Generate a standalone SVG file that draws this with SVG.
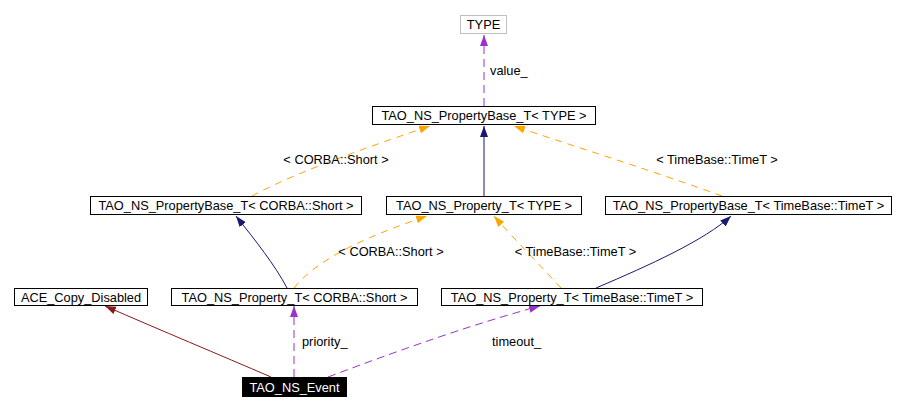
<svg xmlns="http://www.w3.org/2000/svg" width="909" height="411" viewBox="0 0 909 411">
<style>
  text { font-family: "Liberation Sans", Arial, sans-serif; font-size: 12.8px; fill: #000; }
  .box { fill: #fff; stroke: #000; stroke-width: 1; }
  .gbox { fill: #fff; stroke: #bfbfbf; stroke-width: 1; }
  .ebox { fill: #000; stroke: #000; stroke-width: 1; }
  .wt { fill: #fff; }
  .c { fill: none; stroke-width: 1; }
  .navy { stroke: #191970; }
  .red { stroke: #8b1a1a; }
  .org { stroke: #ffa500; stroke-dasharray: 7,6; }
  .pur { stroke: #9a32cd; stroke-dasharray: 8,5; }
</style>
<defs>
  <marker id="aNavy" markerUnits="userSpaceOnUse" markerWidth="12" markerHeight="9" refX="11" refY="4" orient="auto"><path d="M0,0 L11,4 L0,8 z" fill="#191970"/></marker>
  <marker id="aRed" markerUnits="userSpaceOnUse" markerWidth="12" markerHeight="9" refX="11" refY="4" orient="auto"><path d="M0,0 L11,4 L0,8 z" fill="#8b1a1a"/></marker>
  <marker id="aOrg" markerUnits="userSpaceOnUse" markerWidth="12" markerHeight="9" refX="11" refY="4" orient="auto"><path d="M0,0 L11,4 L0,8 z" fill="#ffa500"/></marker>
  <marker id="aPur" markerUnits="userSpaceOnUse" markerWidth="12" markerHeight="9" refX="11" refY="4" orient="auto"><path d="M0,0 L11,4 L0,8 z" fill="#9a32cd"/></marker>
</defs>
<rect width="909" height="411" fill="#fff"/>

<g id="connectors">
  <path class="c pur" d="M484,106 L484,35" marker-end="url(#aPur)"/>
  <path class="c navy" d="M484,197 L484,126" marker-end="url(#aNavy)"/>
  <path class="c org" d="M252,196 C300,170 380,143 430,126" marker-end="url(#aOrg)"/>
  <path class="c org" d="M722,196 C650,170 570,145 514,126" marker-end="url(#aOrg)"/>
  <path class="c navy" d="M287,288 C275,265 255,240 236,216" marker-end="url(#aNavy)"/>
  <path class="c org" d="M294,288 C320,255 380,232 427,216" marker-end="url(#aOrg)"/>
  <path class="c org" d="M561,288 C540,265 515,240 494,216" marker-end="url(#aOrg)"/>
  <path class="c navy" d="M596,288 C650,265 705,240 731,216" marker-end="url(#aNavy)"/>
  <path class="c red" d="M271,377 C220,355 160,330 105,306" marker-end="url(#aRed)"/>
  <path class="c pur" d="M294,377 L294,306" marker-end="url(#aPur)"/>
  <path class="c pur" d="M328,377 C400,350 470,325 540,306" marker-end="url(#aPur)"/>
  <text x="490" y="75">value_</text>
  <text x="336" y="164" text-anchor="middle">&lt; CORBA::Short &gt;</text>
  <text x="717" y="164" text-anchor="middle">&lt; TimeBase::TimeT &gt;</text>
  <text x="391" y="256" text-anchor="middle">&lt; CORBA::Short &gt;</text>
  <text x="575.5" y="256" text-anchor="middle">&lt; TimeBase::TimeT &gt;</text>
  <text x="302" y="346">priority_</text>
  <text x="492" y="346">timeout_</text>
</g>

<g id="type"><rect class="gbox" x="460.5" y="15.5" width="46" height="18"/><text x="483.5" y="29" text-anchor="middle">TYPE</text></g>
<g id="pbType"><rect class="box" x="372.5" y="106.5" width="223" height="18"/><text x="484" y="120" text-anchor="middle">TAO_NS_PropertyBase_T&lt; TYPE &gt;</text></g>
<g id="pbShort"><rect class="box" x="90.5" y="196.5" width="271" height="18"/><text x="226" y="210" text-anchor="middle">TAO_NS_PropertyBase_T&lt; CORBA::Short &gt;</text></g>
<g id="pType"><rect class="box" x="386.5" y="196.5" width="195" height="18"/><text x="484" y="210" text-anchor="middle">TAO_NS_Property_T&lt; TYPE &gt;</text></g>
<g id="pbTime"><rect class="box" x="605.5" y="196.5" width="286" height="18"/><text x="748.5" y="210" text-anchor="middle">TAO_NS_PropertyBase_T&lt; TimeBase::TimeT &gt;</text></g>
<g id="ace"><rect class="box" x="14.5" y="288.5" width="133" height="17"/><text x="81" y="302" text-anchor="middle">ACE_Copy_Disabled</text></g>
<g id="pShort"><rect class="box" x="171.5" y="288.5" width="246" height="17"/><text x="294.5" y="302" text-anchor="middle">TAO_NS_Property_T&lt; CORBA::Short &gt;</text></g>
<g id="pTime"><rect class="box" x="441.5" y="288.5" width="261" height="17"/><text x="572" y="302" text-anchor="middle">TAO_NS_Property_T&lt; TimeBase::TimeT &gt;</text></g>
<g id="event"><rect class="ebox" x="242.5" y="377.5" width="104" height="19"/><text class="wt" x="294.5" y="391.5" text-anchor="middle">TAO_NS_Event</text></g>
</svg>
